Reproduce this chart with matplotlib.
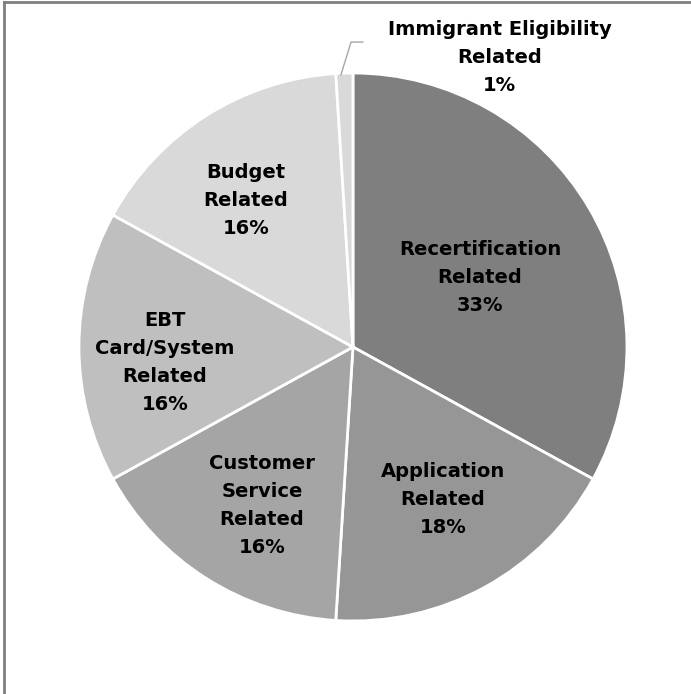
import matplotlib
matplotlib.use("Agg")
import matplotlib.pyplot as plt
from matplotlib.lines import Line2D

categories = ["Recertification\nRelated", "Application\nRelated", "Customer\nService\nRelated",
              "EBT\nCard/System\nRelated", "Budget\nRelated", "Immigrant Eligibility\nRelated"]
values = [33, 18, 16, 16, 16, 1]
colors = ["#7f7f7f", "#969696", "#a5a5a5", "#bfbfbf", "#d9d9d9", "#d9d9d9"]
label_pos = [(0.464, 0.252), (0.328, -0.558), (-0.332, -0.577),
             (-0.686, -0.058), (-0.39, 0.536), (0.536, 1.058)]

plt.rcParams['font.family'] = ['DejaVu Sans']
fig = plt.figure(figsize=(6.91, 6.94), dpi=100)
ax = fig.add_axes([0.1143, 0.1052, 0.793, 0.7896])
ax.pie(values, colors=colors, startangle=90, counterclock=False, radius=1,
       wedgeprops=dict(edgecolor="white", linewidth=2))
ax.set_xlim(-1, 1)
ax.set_ylim(-1, 1)
ax.set_aspect('auto')
ax.axis('off')

for cat, v, (x, y) in zip(categories, values, label_pos):
    ax.text(x, y, f"{cat}\n{v}%", ha="center", va="center", fontsize=14,
            fontweight="bold", color="black", linespacing=1.6, clip_on=False)

# leader line for smallest slice
ax.add_line(Line2D([-0.044, -0.007, 0.036], [0.993, 1.113, 1.113], color="#a6a6a6",
                   linewidth=1, clip_on=False))

# frame
fig.add_artist(Line2D([0.006, 0.006], [0, 0.997], transform=fig.transFigure, color="#808080", linewidth=2))
fig.add_artist(Line2D([0.006, 1], [0.997, 0.997], transform=fig.transFigure, color="#808080", linewidth=2))

fig.savefig("out.png", dpi=100)
